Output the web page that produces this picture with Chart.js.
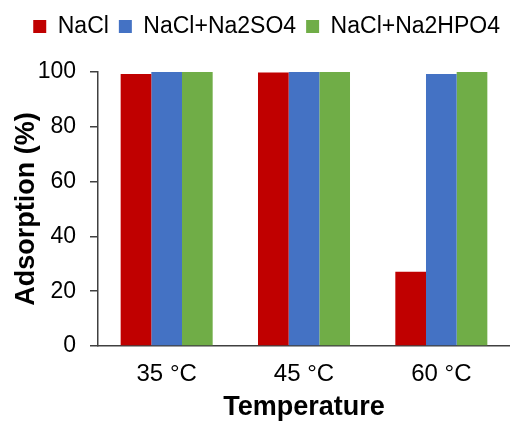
<!DOCTYPE html>
<html>
<head>
<meta charset="utf-8">
<script src="https://cdn.jsdelivr.net/npm/chart.js"></script>
<style>
  html, body { margin: 0; padding: 0; background: #fff; }
  #wrap { width: 510px; height: 421px; }
</style>
</head>
<body>
<div id="wrap"><canvas id="chart" width="510" height="421"></canvas></div>
<script>
// -------------------------------
// DATA
// -------------------------------
const categories = ["35 °C", "45 °C", "60 °C"];
const naclValues = [99.3, 99.8, 27.1];
const sulfateValues = [100, 100, 99.3];
const phosphateValues = [100, 100, 100];
const yTicks = [0, 20, 40, 60, 80, 100];

const FONT = "'Liberation Sans', Arial, sans-serif";
const AXIS = "#404040";

// extra space under the legend
const legendGap = {
  id: "legendGap",
  beforeInit(chart) {
    const fit = chart.legend.fit;
    chart.legend.fit = function () {
      fit.bind(chart.legend)();
      this.height += 24;
    };
  }
};

// -------------------------------
// CHART
// -------------------------------
const ctx = document.getElementById("chart").getContext("2d");

new Chart(ctx, {
  type: "bar",
  data: {
    labels: categories,
    datasets: [
      { label: "NaCl", data: naclValues, backgroundColor: "#C00000" },
      { label: "NaCl+Na2SO4", data: sulfateValues, backgroundColor: "#4472C4" },
      { label: "NaCl+Na2HPO4", data: phosphateValues, backgroundColor: "#70AD47" }
    ]
  },
  plugins: [legendGap],
  options: {
    responsive: false,
    animation: false,
    layout: { padding: { top: 5, left: 0, right: 0, bottom: 0 } },
    datasets: {
      bar: { categoryPercentage: 0.67, barPercentage: 1.0, borderWidth: 0 }
    },
    plugins: {
      tooltip: { enabled: false },
      legend: {
        position: "top",
        align: "end",
        labels: {
          color: "#000",
          font: { family: FONT, size: 23 },
          boxWidth: 13,
          boxHeight: 13,
          padding: 10
        }
      }
    },
    scales: {
      x: {
        afterFit: (s) => { s.height = 75; },
        grid: { display: false, drawTicks: false },
        border: { display: true, color: AXIS, width: 1.5 },
        ticks: { color: "#000", font: { family: FONT, size: 24 }, padding: 14 },
        title: {
          display: true,
          text: "Temperature",
          color: "#000",
          font: { family: FONT, size: 27, weight: "bold", lineHeight: 1.0 },
          padding: { top: 0, bottom: 0 }
        }
      },
      y: {
        min: 0,
        max: 100,
        afterFit: (s) => { s.width = 98; },
        afterBuildTicks: (s) => { s.ticks = yTicks.map(v => ({ value: v })); },
        grid: { drawOnChartArea: false, color: AXIS, lineWidth: 1.5, tickLength: 8 },
        border: { display: true, color: AXIS, width: 1.5 },
        ticks: { color: "#000", font: { family: FONT, size: 23 }, padding: 14 },
        title: {
          display: true,
          text: "Adsorption (%)",
          color: "#000",
          font: { family: FONT, size: 27, weight: "bold", lineHeight: 1.2 },
          padding: { top: 10, bottom: 0 }
        }
      }
    }
  }
});
</script>
</body>
</html>
